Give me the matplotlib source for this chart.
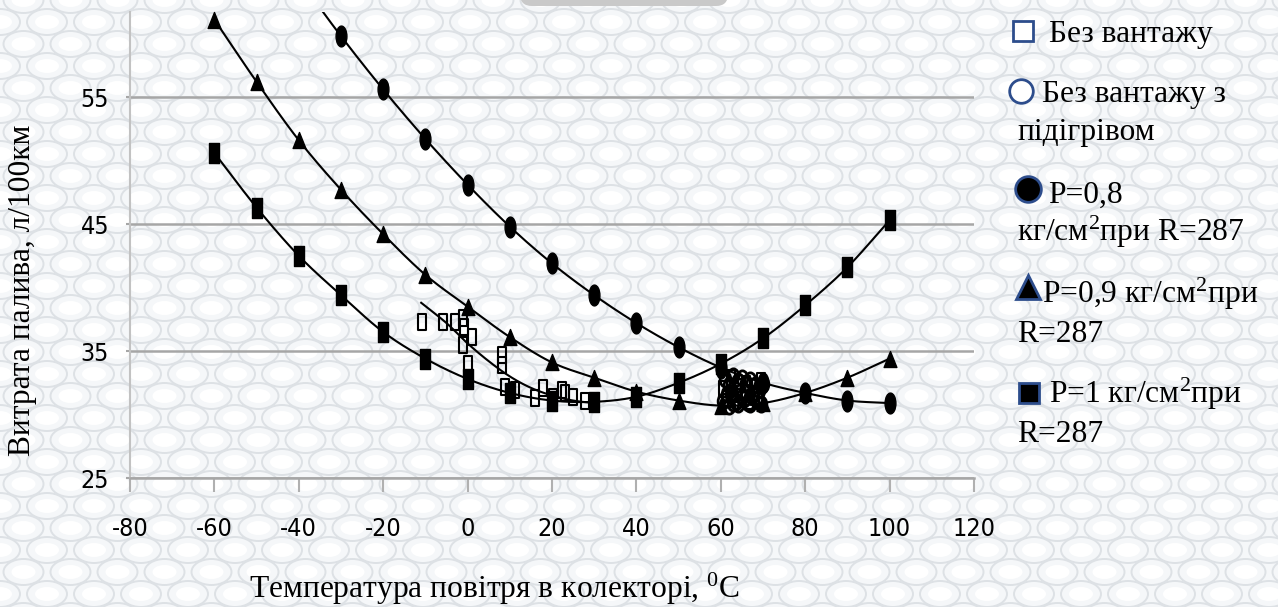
import numpy as np
import matplotlib.pyplot as plt
from matplotlib import font_manager
from matplotlib.path import Path
from matplotlib.transforms import Affine2D
from matplotlib.collections import EllipseCollection
from matplotlib.patches import FancyBboxPatch

# Fuel consumption vs. air temperature in the intake manifold
temp_p08 = [-40, -30, -20, -10, 0, 10, 20, 30, 40, 50, 60, 70, 80, 90, 100]
fuel_p08 = [64.3, 59.8, 55.6, 51.7, 48.1, 44.8, 41.9, 39.4, 37.2, 35.3, 33.7, 32.5, 31.7, 31.1, 30.9]

temp_p09 = [-60, -50, -40, -30, -20, -10, 0, 10, 20, 30, 40, 50, 60, 70, 80, 90, 100]
fuel_p09 = [61.1, 56.2, 51.6, 47.7, 44.2, 41.0, 38.5, 36.1, 34.1, 32.9, 31.8, 31.1, 30.7, 30.9, 31.7, 32.9, 34.4]

temp_p10 = [-60, -50, -40, -30, -20, -10, 0, 10, 20, 30, 40, 50, 60, 70, 80, 90, 100]
fuel_p10 = [50.6, 46.3, 42.5, 39.4, 36.5, 34.4, 32.8, 31.7, 31.1, 31.0, 31.4, 32.5, 34.0, 36.0, 38.6, 41.6, 45.3]

# measurements without load
noload_t = [-10.8, -5.8, -3.0, -1.1, -0.9, 1.0, -1.1, 0.1, 8.2, 8.2, 8.9, 11.2, 16.0, 17.9,
            20.3, 22.4, 23.1, 25.0, 27.8, 60.5, 61.5, 62.5, 64.0, 66.0, 68.0, 69.5, 63.0, 67.0]
noload_f = [37.3, 37.3, 37.3, 37.6, 36.9, 36.1, 35.5, 34.0, 34.7, 33.9, 32.2, 31.9, 31.3, 32.1,
            31.4, 31.9, 31.7, 31.4, 31.1, 32.0, 31.2, 32.9, 32.2, 32.4, 31.4, 32.6, 31.6, 31.1]
noload_trend_t = [-11, -5, 0, 5, 10, 15, 20, 25, 30]
noload_trend_f = [38.8, 37.2, 35.6, 34.2, 33.0, 32.1, 31.5, 31.1, 30.9]

# measurements without load, with heating
heated_t = [61.0, 62.0, 62.5, 63.0, 63.5, 64.0, 64.5, 65.0, 65.5, 66.0, 66.5, 67.0, 67.5,
            68.0, 69.0, 63.0, 65.0, 61.5, 60.5, 62.0, 64.0, 66.0, 68.5, 70.0, 69.5, 67.0]
heated_f = [32.8, 32.3, 31.5, 33.0, 31.0, 32.6, 31.8, 32.9, 31.2, 32.5, 30.9, 32.7, 31.6,
            32.3, 31.9, 30.9, 31.4, 31.6, 31.1, 30.7, 30.8, 31.8, 31.2, 32.4, 30.8, 30.8]

x_ticks = [-80, -60, -40, -20, 0, 20, 40, 60, 80, 100, 120]
y_ticks = [25, 35, 45, 55]

SERIF = ["Liberation Serif", "DejaVu Serif"]
plt.rcParams["mathtext.fontset"] = "custom"
plt.rcParams["mathtext.rm"] = "Liberation Serif"
plt.rcParams["mathtext.it"] = "Liberation Serif:italic"


def narrow_font(size):
    """Pick the narrowest sans face that is installed"""
    for f in font_manager.fontManager.ttflist:
        if "Narrow" in f.name or "Condensed" in f.name or "Condensed" in f.fname:
            if "Bold" not in f.fname and "Oblique" not in f.fname and "Italic" not in f.fname:
                return font_manager.FontProperties(fname=f.fname, size=size)
    return font_manager.FontProperties(family="Liberation Sans", size=size, stretch="condensed")


def smooth(xs, ys, n=24):
    """Catmull-Rom curve through the points"""
    x = np.asarray(xs, float)
    y = np.asarray(ys, float)
    px = np.concatenate([[2 * x[0] - x[1]], x, [2 * x[-1] - x[-2]]])
    py = np.concatenate([[2 * y[0] - y[1]], y, [2 * y[-1] - y[-2]]])
    t = np.linspace(0, 1, n)[:, None]
    out_x, out_y = [], []
    for i in range(1, len(px) - 2):
        for p, out in ((px, out_x), (py, out_y)):
            p0, p1, p2, p3 = p[i - 1], p[i], p[i + 1], p[i + 2]
            seg = 0.5 * (2 * p1 + (-p0 + p2) * t + (2 * p0 - 5 * p1 + 4 * p2 - p3) * t ** 2
                         + (-p0 + 3 * p1 - 3 * p2 + p3) * t ** 3)
            out.append(seg.ravel())
    return np.concatenate(out_x), np.concatenate(out_y)


# tall markers
tall_circle = Path.unit_circle().transformed(Affine2D().scale(0.52, 1.0))
tall_square = Path.unit_rectangle().transformed(Affine2D().translate(-0.5, -0.5).scale(1.05, 2.0))
tall_triangle = Path([(0, 1), (-0.8, -1), (0.8, -1), (0, 1)], closed=True)
small_ring = Path.unit_circle().transformed(Affine2D().scale(0.7, 1.0))

W, H = 1278, 607
fig = plt.figure(figsize=(W / 100, H / 100), dpi=100)
fig.patch.set_facecolor("#f5f7f9")

# background lattice
bg = fig.add_axes([0, 0, 1, 1], zorder=-10)
bg.set_xlim(0, W)
bg.set_ylim(H, 0)
bg.axis("off")
xs = np.arange(-47, W + 60, 47.0)
ys = np.arange(-22, H + 30, 22.0)
cells = []
for k, yy in enumerate(ys):
    shift = 23.5 if k % 2 else 0.0
    for xx in xs:
        cells.append((xx + shift, yy))
cells = np.array(cells)
bg.add_collection(EllipseCollection(40, 26, 0, units="xy", offsets=cells,
                                    offset_transform=bg.transData,
                                    facecolors="none", edgecolors="#dde1e5", linewidths=1.4))
bg.add_collection(EllipseCollection(24, 14, 0, units="xy", offsets=cells,
                                    offset_transform=bg.transData,
                                    facecolors="white", edgecolors="none"))
bg.add_patch(FancyBboxPatch((520, -30), 208, 36, boxstyle="round,pad=0,rounding_size=12",
                            facecolor="#c9c9c9", edgecolor="none"))

# main chart
tick_font = narrow_font(18)
ax = fig.add_axes([130 / W, 1 - 478 / H, 844 / W, 466 / H])
ax.set_facecolor("none")
ax.set_xlim(-80, 120)
ax.set_ylim(25, 61.7)
ax.set_xticks(x_ticks)
ax.set_yticks(y_ticks)
ax.set_xticklabels([str(v) for v in x_ticks], fontproperties=tick_font)
ax.set_yticklabels([str(v) for v in y_ticks], fontproperties=tick_font)
ax.tick_params(axis="x", length=10, width=1.5, color="#b0b0b0", pad=18)
ax.tick_params(axis="y", length=3, width=1.5, color="#a6a6a6", pad=12)
ax.grid(axis="y", color="#a6a6a6", linewidth=1.8)
ax.set_axisbelow(True)
for side in ("top", "right"):
    ax.spines[side].set_visible(False)
ax.spines["left"].set_color("#c2c2c2")
ax.spines["left"].set_linewidth(1.5)
ax.spines["bottom"].set_color("#a6a6a6")
ax.spines["bottom"].set_linewidth(1.8)

for t, f, mk, ms in ((temp_p08, fuel_p08, tall_circle, 15),
                     (temp_p09, fuel_p09, tall_triangle, 11.5),
                     (temp_p10, fuel_p10, tall_square, 15)):
    cx, cy = smooth(t, f)
    ax.plot(cx, cy, color="black", linewidth=1.5, zorder=2)
    ax.plot(t, f, linestyle="none", marker=mk, markersize=ms, color="black", clip_on=False, zorder=3)

tx, ty = smooth(noload_trend_t, noload_trend_f)
ax.plot(tx, ty, color="black", linewidth=1.5, zorder=2)
ax.plot(noload_t, noload_f, linestyle="none", marker=tall_square, markersize=12,
        markerfacecolor="none", markeredgecolor="black", markeredgewidth=1.5, zorder=4)
ax.plot(heated_t, heated_f, linestyle="none", marker=small_ring, markersize=11,
        markerfacecolor="none", markeredgecolor="black", markeredgewidth=2.0, zorder=4)

# axis titles
fig.text(249 / W, 1 - 598 / H, "Температура повітря в колекторі, $^{0}$C",
         family=SERIF, fontsize=22.7, ha="left", va="baseline")
fig.text(23 / W, 1 - 290 / H, "Витрата палива, л/100км", family=SERIF, fontsize=22.7,
         rotation=90, ha="center", va="center")

# legend
edge = "#2d4d8c"
legend_marks = [((1023, 31), "s", 14, "white"),
                ((1021, 91), "o", 17, "white"),
                ((1028, 189), "o", 18.5, "black"),
                ((1028, 287), "^", 17, "black"),
                ((1029, 393), "s", 15, "black")]
for (mx, my), mk, ms, fc in legend_marks:
    bg.plot([mx], [my], marker=mk, markersize=ms, markerfacecolor=fc,
            markeredgecolor=edge, markeredgewidth=2)

legend_lines = [(1049, 42, "Без вантажу"),
                (1042, 102, "Без вантажу з"),
                (1017, 140, "підігрівом"),
                (1048, 203, "P=0,8"),
                (1017, 241, "кг/см$^{2}$при R=287"),
                (1042, 303, "P=0,9 кг/см$^{2}$при"),
                (1017, 342, "R=287"),
                (1049, 403, "P=1 кг/см$^{2}$при"),
                (1017, 442, "R=287")]
for lx, ly, txt in legend_lines:
    bg.text(lx, ly, txt, family=SERIF, fontsize=22.7, ha="left", va="baseline")

fig.savefig("out.png", dpi=100, facecolor=fig.get_facecolor())
